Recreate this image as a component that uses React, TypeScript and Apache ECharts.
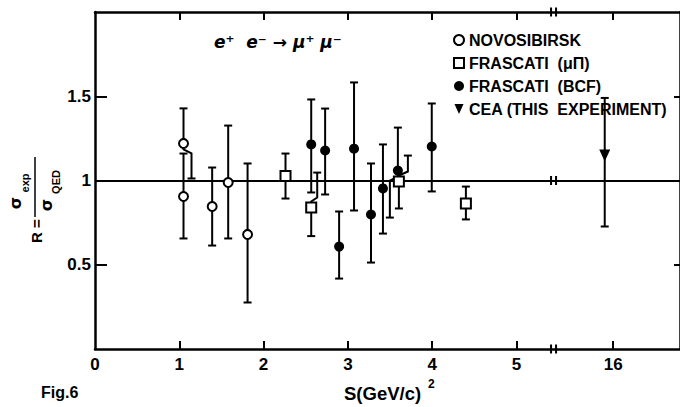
import React, { useEffect, useRef } from 'react';
import * as echarts from 'echarts';

// ---- data (S in (GeV/c)^2, R = sigma_exp / sigma_QED) ----
const novoS = [1.05, 1.05, 1.39, 1.58, 1.81];
const novoR = [1.22, 0.905, 0.846, 0.988, 0.68];
const novoLo = [1.012, 0.656, 0.614, 0.656, 0.276];
const novoHi = [1.428, 1.16, 1.077, 1.326, 1.101];

const muPiS = [2.26, 2.565, 3.605, 4.4];
const muPiR = [1.027, 0.84, 0.994, 0.863];
const muPiLo = [0.893, 0.67, 0.834, 0.769];
const muPiHi = [1.16, 1.047, 1.148, 0.964];

const bcfS = [2.565, 2.73, 2.896, 3.073, 3.274, 3.416, 3.593, 3.995];
const bcfR = [1.214, 1.178, 0.608, 1.189, 0.798, 0.953, 1.059, 1.202];
const bcfLo = [0.929, 0.917, 0.418, 0.822, 0.513, 0.685, 0.78, 0.935];
const bcfHi = [1.481, 1.427, 0.816, 1.582, 1.101, 1.214, 1.314, 1.457];

const ceaS = [15.9];
const ceaR = [1.148];
const ceaLo = [0.727];
const ceaHi = [1.49];

const xTickValues = [0, 1, 2, 3, 4, 5, 16];
const yTickValues = [0.5, 1, 1.5];
const referenceR = 1;

const seriesNames = [
  'NOVOSIBIRSK',
  'FRASCATI\u00a0\u00a0(\u03bc\u03a0)',
  'FRASCATI\u00a0\u00a0(BCF)',
  'CEA (THIS\u00a0\u00a0EXPERIMENT)',
];

// ---- broken axis: 0..5 linear, then a break, then 16 ----
const BREAK_POS = 5.44;
const POS16 = 6.147;
const AXIS_MAX = 6.94;
const pos = (s: number) => (s <= 5.5 ? s : POS16 + (s - 16));

// error-bar jogs (pixel offsets) used in the original to avoid overlaps
const JOGS: Record<string, { lo?: number; hi?: number }> = {
  'novo-0': { lo: 8 },
  'mupi-1': { hi: 6 },
  'mupi-2': { hi: 9 },
  'bcf-6': { lo: -8 },
};

const FONT = 'Liberation Sans';

function errorSeries(key: string, s: number[], r: number[], lo: number[], hi: number[]) {
  return {
    type: 'custom',
    silent: true,
    z: 2,
    clip: false,
    data: s.map((v, i) => [pos(v), lo[i], hi[i], r[i]]),
    renderItem: (params: any, api: any) => {
      const x = api.value(0);
      const pc = api.coord([x, api.value(3)]);
      const pl = api.coord([x, api.value(1)]);
      const ph = api.coord([x, api.value(2)]);
      const jog = JOGS[key + '-' + params.dataIndex] || {};
      const cap = 4;
      const st = { stroke: '#000', lineWidth: 2, fill: 'none' };
      const children: any[] = [];
      const dh = jog.hi || 0;
      const dl = jog.lo || 0;
      if (dh) {
        children.push({ type: 'polyline', shape: { points: [[pc[0], pc[1]], [pc[0], pc[1] - 6], [pc[0] + dh, pc[1] - 10], [pc[0] + dh, ph[1]]] }, style: st });
      } else {
        children.push({ type: 'line', shape: { x1: pc[0], y1: pc[1], x2: ph[0], y2: ph[1] }, style: st });
      }
      children.push({ type: 'line', shape: { x1: ph[0] + dh - cap, y1: ph[1], x2: ph[0] + dh + cap, y2: ph[1] }, style: st });
      if (dl) {
        children.push({ type: 'polyline', shape: { points: [[pc[0], pc[1]], [pc[0], pc[1] + 6], [pc[0] + dl, pc[1] + 10], [pc[0] + dl, pl[1]]] }, style: st });
      } else {
        children.push({ type: 'line', shape: { x1: pc[0], y1: pc[1], x2: pl[0], y2: pl[1] }, style: st });
      }
      children.push({ type: 'line', shape: { x1: pl[0] + dl - cap, y1: pl[1], x2: pl[0] + dl + cap, y2: pl[1] }, style: st });
      return { type: 'group', children };
    },
  };
}

export default function App() {
  const ref = useRef<HTMLDivElement>(null);
  useEffect(() => {
    if (!ref.current) return;
    const chart = echarts.init(ref.current, null, { renderer: 'svg' });
    const xCustom = xTickValues.map(pos);
    const labelFor = (v: number) => {
      const i = xCustom.findIndex((c) => Math.abs(c - v) < 1e-6);
      return i >= 0 ? String(xTickValues[i]) : '';
    };
    const breakSymbol = 'path://M0,0 L2,0 L2,9 L0,9 Z M5,0 L7,0 L7,9 L5,9 Z';
    const option: any = {
      animation: false,
      backgroundColor: '#fff',
      grid: { left: 95, top: 12, width: 587, height: 337 },
      xAxis: [
        {
          type: 'value', min: 0, max: AXIS_MAX, position: 'bottom',
          axisLine: { show: true, onZero: false, lineStyle: { color: '#000', width: 2.5 } },
          axisTick: { show: true, inside: true, length: 8, customValues: xTickValues.slice(1).map(pos), lineStyle: { color: '#000', width: 2 } },
          axisLabel: { customValues: xCustom, formatter: labelFor, margin: 7, color: '#000', fontFamily: FONT, fontWeight: 'bold', fontSize: 17 },
          splitLine: { show: false },
        },
        {
          type: 'value', min: 0, max: AXIS_MAX, position: 'top',
          axisLine: { show: true, onZero: false, lineStyle: { color: '#000', width: 2.5 } },
          axisTick: { show: true, inside: true, length: 8, customValues: xTickValues.slice(1).map(pos), lineStyle: { color: '#000', width: 2 } },
          axisLabel: { show: false },
          splitLine: { show: false },
        },
      ],
      yAxis: [
        {
          type: 'value', min: 0, max: 2, position: 'left',
          axisLine: { show: true, onZero: false, lineStyle: { color: '#000', width: 2.5 } },
          axisTick: { show: true, inside: true, length: 12, customValues: yTickValues, lineStyle: { color: '#000', width: 2 } },
          axisLabel: { customValues: yTickValues, formatter: (v: number) => String(v), margin: 4, color: '#000', fontFamily: FONT, fontWeight: 'bold', fontSize: 17 },
          splitLine: { show: false },
        },
        {
          type: 'value', min: 0, max: 2, position: 'right',
          axisLine: { show: true, onZero: false, lineStyle: { color: '#000', width: 2.5 } },
          axisTick: { show: true, inside: true, length: 6, customValues: [0.5, 1.5], lineStyle: { color: '#000', width: 2 } },
          axisLabel: { show: false },
          splitLine: { show: false },
        },
      ],
      legend: {
        orient: 'vertical', left: 453, top: 32, padding: 0, itemGap: 7,
        itemWidth: 10, itemHeight: 10, selectedMode: false,
        data: seriesNames,
        textStyle: { color: '#000', fontFamily: FONT, fontWeight: 'bold', fontSize: 16, lineHeight: 16 },
      },
      series: [
        {
          type: 'scatter', silent: true, z: 1, symbol: breakSymbol, symbolSize: [7, 9],
          itemStyle: { color: '#000', opacity: 1 }, clip: false,
          data: [[BREAK_POS, 0], [BREAK_POS, referenceR], [BREAK_POS, 2]],
          markLine: {
            silent: true, symbol: ['none', 'none'], label: { show: false },
            lineStyle: { color: '#000', width: 2, type: 'solid', opacity: 1 },
            data: [{ yAxis: referenceR }],
          },
        },
        errorSeries('novo', novoS, novoR, novoLo, novoHi),
        errorSeries('mupi', muPiS, muPiR, muPiLo, muPiHi),
        errorSeries('bcf', bcfS, bcfR, bcfLo, bcfHi),
        errorSeries('cea', ceaS, ceaR, ceaLo, ceaHi),
        {
          name: seriesNames[0], type: 'scatter', z: 5, symbol: 'circle', symbolSize: 9,
          itemStyle: { color: '#fff', borderColor: '#000', borderWidth: 2, opacity: 1 },
          data: novoS.map((s, i) => [pos(s), novoR[i]]),
        },
        {
          name: seriesNames[1], type: 'scatter', z: 5, symbol: 'rect', symbolSize: 10,
          itemStyle: { color: '#fff', borderColor: '#000', borderWidth: 2, opacity: 1 },
          data: muPiS.map((s, i) => [pos(s), muPiR[i]]),
        },
        {
          name: seriesNames[2], type: 'scatter', z: 6, symbol: 'circle', symbolSize: 10,
          itemStyle: { color: '#000', opacity: 1 },
          data: bcfS.map((s, i) => [pos(s), bcfR[i]]),
        },
        {
          name: seriesNames[3], type: 'scatter', z: 6, symbol: 'path://M0,0 L10,0 L5,11 Z', symbolSize: [11, 12],
          itemStyle: { color: '#000', opacity: 1 },
          data: ceaS.map((s, i) => [pos(s), ceaR[i]]),
        },
      ],
      graphic: [
        {
          type: 'text', x: 214, y: 42,
          style: { text: 'e\u207a  e\u207b \u2192 \u03bc\u207a \u03bc\u207b', fill: '#000', fontFamily: 'DejaVu Sans', fontStyle: 'italic', fontWeight: 'bold', fontSize: 17, verticalAlign: 'middle' },
        },
        {
          type: 'text', x: 36, y: 231, rotation: Math.PI / 2,
          style: { text: 'R =', fill: '#000', fontFamily: FONT, fontWeight: 'bold', fontSize: 15, align: 'center', verticalAlign: 'middle' },
        },
        { type: 'line', shape: { x1: 35, y1: 157, x2: 35, y2: 217 }, style: { stroke: '#000', lineWidth: 1.5 } },
        {
          type: 'text', x: 15, y: 203, rotation: Math.PI / 2,
          style: { text: '\u03c3', fill: '#000', fontFamily: 'DejaVu Sans', fontWeight: 'bold', fontSize: 16, align: 'center', verticalAlign: 'middle' },
        },
        {
          type: 'text', x: 25, y: 183, rotation: Math.PI / 2,
          style: { text: 'exp', fill: '#000', fontFamily: FONT, fontWeight: 'bold', fontSize: 11, align: 'center', verticalAlign: 'middle' },
        },
        {
          type: 'text', x: 46, y: 205, rotation: Math.PI / 2,
          style: { text: '\u03c3', fill: '#000', fontFamily: 'DejaVu Sans', fontWeight: 'bold', fontSize: 16, align: 'center', verticalAlign: 'middle' },
        },
        {
          type: 'text', x: 56, y: 182, rotation: Math.PI / 2,
          style: { text: 'QED', fill: '#000', fontFamily: FONT, fontWeight: 'bold', fontSize: 11, align: 'center', verticalAlign: 'middle' },
        },
        {
          type: 'text', x: 41, y: 392,
          style: { text: 'Fig.6', fill: '#000', fontFamily: FONT, fontWeight: 'bold', fontSize: 16, verticalAlign: 'middle' },
        },
        {
          type: 'text', x: 344, y: 393,
          style: { text: 'S(GeV/c)', fill: '#000', fontFamily: FONT, fontWeight: 'bold', fontSize: 18.5, verticalAlign: 'middle' },
        },
        {
          type: 'text', x: 428, y: 384,
          style: { text: '2', fill: '#000', fontFamily: FONT, fontWeight: 'bold', fontSize: 12, verticalAlign: 'middle' },
        },
      ],
    };
    chart.setOption(option);
    return () => chart.dispose();
  }, []);
  return <div ref={ref} style={{ position: 'fixed', left: 0, top: 0, width: 680, height: 407, background: '#fff' }} />;
}
